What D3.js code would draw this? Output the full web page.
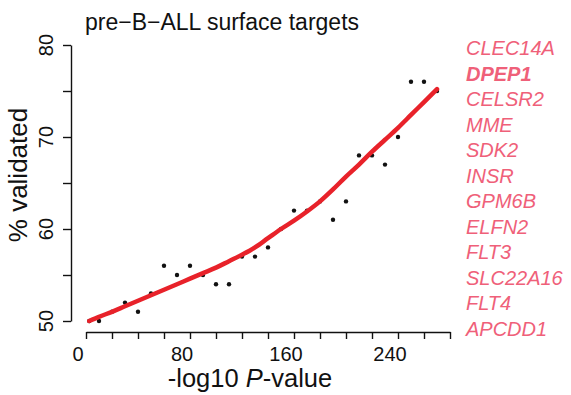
<!DOCTYPE html>
<html>
<head>
<meta charset="utf-8">
<script src="https://cdn.jsdelivr.net/npm/d3@7"></script>
<style>
  html, body { margin: 0; padding: 0; background: #fff; }
  svg { display: block; font-family: "Liberation Sans", Arial, Helvetica, sans-serif; }
</style>
</head>
<body>
<svg id="chart" width="571" height="395"></svg>
<script>
// ---- data ----
const pvalX = [2.5, 10, 20, 30, 40, 50, 60, 70, 80, 90, 100, 110, 120, 130, 140, 150,
               160, 170, 180, 190, 200, 210, 220, 230, 240, 250, 260, 270];
const validated = [50, 50, 51, 52, 51, 53, 56, 55, 56, 55, 54, 54, 57, 57, 58, 60,
                   62, 62, 63, 61, 63, 68, 68, 67, 70, 76, 76, 75];
const fitted = [50.0, 50.45, 51.0, 51.6, 52.2, 52.8, 53.4, 54.0, 54.6, 55.2, 55.8, 56.5,
                57.2, 58.0, 59.0, 60.0, 60.9, 61.9, 63.0, 64.3, 65.7, 67.0, 68.4, 69.7,
                71.0, 72.4, 73.8, 75.2];
const xTicks = [0, 20, 40, 60, 80, 100, 120, 140, 160, 180, 200, 220, 240, 260, 280];
const xTickLabels = [0, 80, 160, 240];
const yTicks = [50, 55, 60, 65, 70, 75, 80];
const yTickLabels = [50, 60, 70, 80];
const genes = ["CLEC14A", "DPEP1", "CELSR2", "MME", "SDK2", "INSR", "GPM6B",
               "ELFN2", "FLT3", "SLC22A16", "FLT4", "APCDD1"];
const boldGenes = ["DPEP1"];
const title = "pre\u2212B\u2212ALL surface targets";

// ---- layout ----
const svg = d3.select("#chart");
const x = d3.scaleLinear().domain([0, 280]).range([86, 450]);
const y = d3.scaleLinear().domain([50, 80]).range([321, 45]);
const axisY0 = 332;   // x-axis line position
const axisX0 = 71;    // y-axis line position
const tickLen = 7;
const labelShift = -8;

// x axis
const gx = svg.append("g").attr("transform", `translate(0,${axisY0})`);
gx.call(d3.axisBottom(x).tickValues(xTicks).tickSize(tickLen).tickSizeOuter(0).tickFormat(""));
gx.select(".domain").attr("stroke", "#111").attr("stroke-width", 1.4);
gx.selectAll(".tick line").attr("stroke", "#111").attr("stroke-width", 1.4);
svg.append("g").selectAll("text").data(xTickLabels).join("text")
  .attr("x", d => x(d) + labelShift)
  .attr("y", 361)
  .attr("text-anchor", "middle")
  .attr("font-size", 20)
  .attr("fill", "#111")
  .text(d => d);

// y axis
const gy = svg.append("g").attr("transform", `translate(${axisX0},0)`);
gy.call(d3.axisLeft(y).tickValues(yTicks).tickSize(tickLen + 1).tickSizeOuter(0).tickFormat(""));
gy.select(".domain").attr("stroke", "#111").attr("stroke-width", 1.4);
gy.selectAll(".tick line").attr("stroke", "#111").attr("stroke-width", 1.4);
svg.append("g").selectAll("text").data(yTickLabels).join("text")
  .attr("transform", d => `translate(53,${y(d)}) rotate(-90)`)
  .attr("text-anchor", "middle")
  .attr("font-size", 20)
  .attr("fill", "#111")
  .text(d => d);

// axis titles
const xt = svg.append("text")
  .attr("x", 250).attr("y", 387)
  .attr("text-anchor", "middle")
  .attr("font-size", 25.5)
  .attr("fill", "#111");
xt.append("tspan").text("-log10 ");
xt.append("tspan").attr("font-style", "italic").text("P");
xt.append("tspan").text("-value");

svg.append("text")
  .attr("transform", "translate(27,175) rotate(-90)")
  .attr("text-anchor", "middle")
  .attr("font-size", 26)
  .attr("fill", "#111")
  .text("% validated");

// title
svg.append("text")
  .attr("x", 85).attr("y", 30)
  .attr("font-size", 23)
  .attr("fill", "#111")
  .text(title);

// points
svg.append("g").selectAll("circle").data(pvalX).join("circle")
  .attr("cx", (d) => x(d))
  .attr("cy", (d, i) => y(validated[i]))
  .attr("r", 2.2)
  .attr("fill", "#111");

// fitted curve
const line = d3.line()
  .x((d) => x(d))
  .y((d, i) => y(fitted[i]))
  .curve(d3.curveMonotoneX);
svg.append("path")
  .datum(pvalX)
  .attr("d", line)
  .attr("fill", "none")
  .attr("stroke", "#e8222a")
  .attr("stroke-width", 4.5)
  .attr("stroke-linecap", "round");

// gene list
const gy2 = d3.scalePoint().domain(genes).range([55, 336]);
svg.append("g").selectAll("text").data(genes).join("text")
  .attr("x", 466)
  .attr("y", d => gy2(d))
  .attr("font-size", 20)
  .attr("font-style", "italic")
  .attr("font-weight", d => boldGenes.includes(d) ? "bold" : "normal")
  .attr("fill", "#ef6079")
  .text(d => d);
</script>
</body>
</html>
